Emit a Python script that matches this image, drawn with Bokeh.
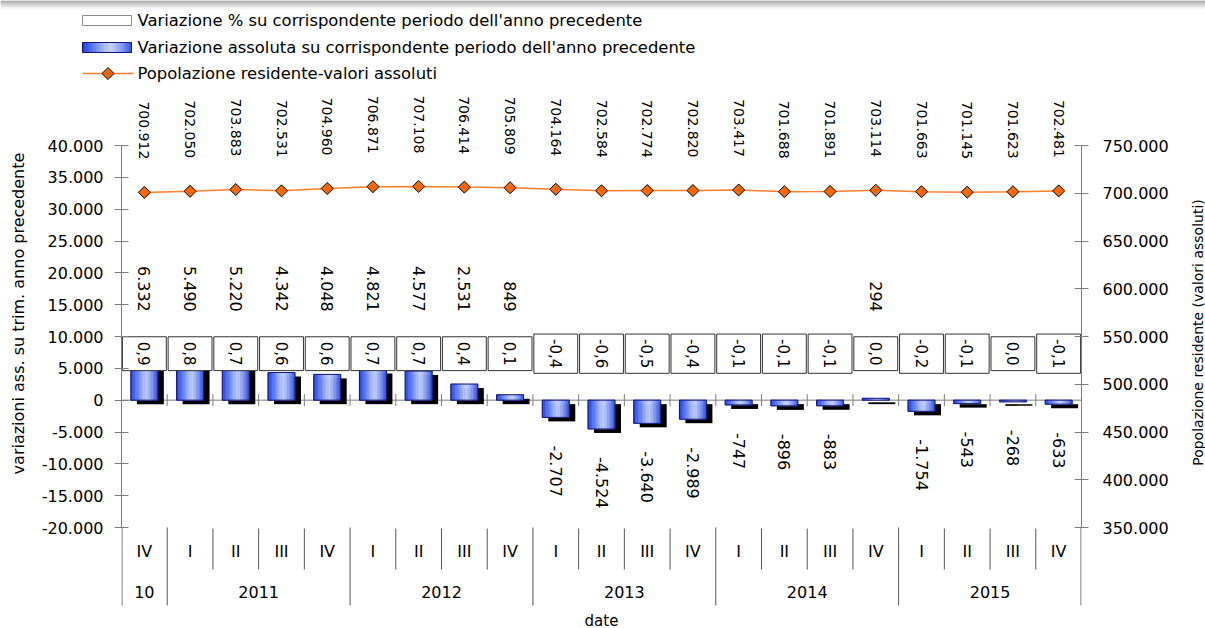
import math
from bokeh.plotting import figure
from bokeh.layouts import column, row
from bokeh.models import Range1d, LinearAxis, FixedTicker, CustomJSTickFormatter
from bokeh.core.properties import value
from bokeh.embed import file_html
from bokeh.resources import INLINE

# ---------------- data ----------------
quarters = ["IV", "I", "II", "III", "IV", "I", "II", "III", "IV", "I", "II", "III",
            "IV", "I", "II", "III", "IV", "I", "II", "III", "IV"]
years = ["10", "2011", "2012", "2013", "2014", "2015"]
year_sizes = [1, 4, 4, 4, 4, 4]
population = [700912, 702050, 703883, 702531, 704960, 706871, 707108, 706414, 705809,
              704164, 702584, 702774, 702820, 703417, 701688, 701891, 703114, 701663,
              701145, 701623, 702481]
abs_change = [6332, 5490, 5220, 4342, 4048, 4821, 4577, 2531, 849, -2707, -4524, -3640,
              -2989, -747, -896, -883, 294, -1754, -543, -268, -633]
pct_change = [0.9, 0.8, 0.7, 0.6, 0.6, 0.7, 0.7, 0.4, 0.1, -0.4, -0.6, -0.5, -0.4,
              -0.1, -0.1, -0.1, 0.0, -0.2, -0.1, 0.0, -0.1]
left_ticks = list(range(-20000, 40001, 5000))
right_ticks = list(range(350000, 750001, 50000))

legend_labels = ["Variazione % su corrispondente periodo dell'anno precedente",
                 "Variazione assoluta su corrispondente periodo dell'anno precedente",
                 "Popolazione residente-valori assoluti"]
left_title = "variazioni ass. su trim. anno precedente"
right_title = "Popolazione residente (valori assoluti)"
x_title = "date"

# ---------------- styles ----------------
FONT = "DejaVu Sans"
GRAD_STOPS = [(0.0, (0x1f, 0x3d, 0xdc)), (0.15, (0x45, 0x65, 0xec)),
              (0.45, (0xa9, 0xbc, 0xfc)), (0.6, (0xc2, 0xd0, 0xff)),
              (0.82, (0x7d, 0x96, 0xf5)), (1.0, (0x33, 0x53, 0xe6))]
BAR_EDGE = "#16167a"
POP_LINE = "#ff7f2a"
POP_FILL = "#ff6600"
AXIS_GRAY = "#7f7f7f"
TOP_BAND = ["#8a8a8a", "#9a9a9a", "#aaaaaa", "#b9b9b9", "#c8c8c8", "#d6d6d6",
            "#e3e3e3", "#eeeeee", "#f7f7f7"]


def grad_color(t):
    for (t0, c0), (t1, c1) in zip(GRAD_STOPS[:-1], GRAD_STOPS[1:]):
        if t <= t1:
            f = (t - t0) / (t1 - t0)
            return "#%02x%02x%02x" % tuple(int(round(a + (b - a) * f)) for a, b in zip(c0, c1))
    return "#%02x%02x%02x" % GRAD_STOPS[-1][1]


NSTRIP = 18
BAR_STRIPS = [grad_color((j + 0.5) / NSTRIP) for j in range(NSTRIP)]

# ---------------- layout helpers ----------------
W_ALL = 1205
HL = 86                 # legend strip height
HM = 542                # main chart height
WLT = 30                # left title strip width
WR = 16                 # right title strip width
WM = W_ALL - WR - WLT
BL = 121 - WLT
BR = WLT + WM - 1081
TOP_PX, BOT_PX = 59, 441   # main-figure y of the top / bottom left-axis ticks
L_MIN, L_MAX = left_ticks[0], left_ticks[-1]
R_MIN, R_MAX = right_ticks[0], right_ticks[-1]
k = (BOT_PX - TOP_PX) / (L_MAX - L_MIN)


def d(px):
    return px / k


y_top = L_MAX + d(TOP_PX)
y_bot = L_MIN - d(HM - BOT_PX)
ratio = (R_MAX - R_MIN) / (L_MAX - L_MIN)


def to_right(v):
    return R_MIN + (v - L_MIN) * ratio


def dp(px):
    return px * ratio / k


n = len(quarters)
xc = [i + 0.5 for i in range(n)]
cat_px = (WM - BL - BR) / n


def dx(px):
    return px / cat_px


def it_int(v):
    return f"{v:,}".replace(",", ".")


def it_dec(v):
    return f"{v:.1f}".replace(".", ",")


CW = {",": 0.318, ".": 0.318, "-": 0.361}


def text_px(s, size):
    return sum(CW.get(ch, 0.636) for ch in s) * size


def bare(fig):
    fig.outline_line_color = None
    fig.grid.visible = False
    fig.frame_align = False
    return fig


def strip_fig(w, h):
    return bare(figure(width=w, height=h, x_range=Range1d(0, w), y_range=Range1d(h, 0),
                       output_backend="svg", toolbar_location=None, x_axis_location=None,
                       y_axis_location=None, min_border=0))


# ---------------- legend strip (figure above) ----------------
lg = strip_fig(W_ALL, HL)
nb = len(TOP_BAND)
lg.quad(left=[0] * nb, right=[W_ALL] * nb, top=list(range(nb)),
        bottom=[i + 1 for i in range(nb)], fill_color=TOP_BAND, line_color=None)
SW_L, SW_R, TXT_X = 82, 131, 137
ROWS = [20, 47, 73]
lg.quad(left=[SW_L], right=[SW_R], top=[ROWS[0] - 5], bottom=[ROWS[0] + 5],
        fill_color="white", line_color="#8c8c8c", line_width=1)
sw_step = (SW_R - SW_L) / NSTRIP
lg.quad(left=[SW_L + j * sw_step for j in range(NSTRIP)],
        right=[SW_L + (j + 1) * sw_step for j in range(NSTRIP)],
        top=[ROWS[1] - 5] * NSTRIP, bottom=[ROWS[1] + 5] * NSTRIP,
        fill_color=BAR_STRIPS, line_color=BAR_STRIPS, line_width=0.6)
lg.quad(left=[SW_L], right=[SW_R], top=[ROWS[1] - 5], bottom=[ROWS[1] + 5],
        fill_color=None, line_color=BAR_EDGE, line_width=1)
lg.line(x=[SW_L, SW_R + 2], y=[ROWS[2], ROWS[2]], line_color=POP_LINE, line_width=1.5)
lg.scatter(x=[(SW_L + SW_R + 2) / 2], y=[ROWS[2]], marker="square", angle=math.pi / 4,
           size=8.5, fill_color=POP_FILL, line_color="black", line_width=1)
lg.text(x=[TXT_X] * 3, y=ROWS, text=legend_labels, text_align="left",
        text_baseline="middle", text_font=value(FONT), text_font_size="16.4px",
        text_color="black")

# ---------------- axis title strips ----------------
lt = strip_fig(WLT, HM)
lt.text(x=[18], y=[313 - HL], text=[left_title], angle=math.pi / 2,
        text_align="center", text_baseline="middle", text_font=value(FONT),
        text_font_size="16px", text_color="black")
rt = strip_fig(WR, HM)
rt.text(x=[WR / 2], y=[332 - HL], text=[right_title], angle=math.pi / 2,
        text_align="center", text_baseline="middle", text_font=value(FONT),
        text_font_size="14px", text_color="black")

# ---------------- main figure ----------------
p = bare(figure(width=WM, height=HM, x_range=Range1d(0, n), y_range=Range1d(y_bot, y_top),
                output_backend="svg", toolbar_location=None, x_axis_location=None,
                min_border_left=BL, min_border_right=BR, min_border_top=0,
                min_border_bottom=0))
p.background_fill_color = "white"
p.border_fill_color = "white"
p.extra_y_ranges = {"pop": Range1d(to_right(y_bot), to_right(y_top))}

fmt_code = 'return tick.toFixed(0).replace(/\\B(?=(\\d{3})+(?!\\d))/g, ".");'

axl = p.yaxis[0]
axl.ticker = FixedTicker(ticks=left_ticks)
axl.bounds = (L_MIN, L_MAX)
axl.major_label_standoff = 11

axr = LinearAxis(y_range_name="pop", ticker=FixedTicker(ticks=right_ticks),
                 bounds=(R_MIN, R_MAX))
axr.major_label_standoff = 14
p.add_layout(axr, "right")

for ax in (axl, axr):
    ax.formatter = CustomJSTickFormatter(code=fmt_code)
    ax.axis_line_color = AXIS_GRAY
    ax.major_tick_line_color = AXIS_GRAY
    ax.minor_tick_line_color = None
    ax.major_tick_in = 7
    ax.major_tick_out = 7
    ax.major_label_text_font = FONT
    ax.major_label_text_font_size = "16px"
    ax.major_label_text_color = "black"

# zero line + category ticks
bounds_all = list(range(0, n + 1))
p.segment(x0=[0], y0=[0], x1=[n], y1=[0], line_color=AXIS_GRAY, line_width=1)
inner = bounds_all[1:-1]
p.segment(x0=inner, y0=[-d(6)] * len(inner), x1=inner, y1=[d(6)] * len(inner),
          line_color=AXIS_GRAY, line_width=1)

# bars: shadow, gradient strips, outline
BAR_W = 0.59
p.vbar(x=[c + dx(6) for c in xc], top=[v - d(4) for v in abs_change], bottom=-d(4),
       width=BAR_W, fill_color="black", line_color=None)
for j, col in enumerate(BAR_STRIPS):
    off = -BAR_W / 2 + (j + 0.5) * BAR_W / NSTRIP
    p.vbar(x=[c + off for c in xc], top=abs_change, bottom=0,
           width=BAR_W / NSTRIP, fill_color=col, line_color=col, line_width=0.6)
p.vbar(x=xc, top=abs_change, bottom=0, width=BAR_W, fill_color=None,
       line_color=BAR_EDGE, line_width=1)

# percentage boxes
BOX_LEVEL = 7300
pct_labels = [it_dec(v) for v in pct_change]
box_h = [text_px(s, 15) + 10 for s in pct_labels]
p.rect(x=xc, y=[BOX_LEVEL] * n, width=0.96, height=box_h, height_units="screen",
       fill_color="white", line_color="#333333", line_width=1)
p.text(x=xc, y=[BOX_LEVEL] * n, text=pct_labels, angle=-math.pi / 2,
       text_align="center", text_baseline="middle", text_font=value(FONT),
       text_font_size="15px", text_color="black")

# absolute value labels
pos_x, pos_y, pos_t, neg_x, neg_y, neg_t = [], [], [], [], [], []
for c, v, h in zip(xc, abs_change, box_h):
    if v >= 0:
        pos_x.append(c)
        pos_y.append(max(BOX_LEVEL + d(h / 2), v) + d(25))
        pos_t.append(it_int(v))
    else:
        neg_x.append(c)
        neg_y.append(v - d(28))
        neg_t.append(it_int(v))
p.text(x=pos_x, y=pos_y, text=pos_t, angle=-math.pi / 2, text_align="right",
       text_baseline="middle", text_font=value(FONT), text_font_size="16px",
       text_color="black")
p.text(x=neg_x, y=neg_y, text=neg_t, angle=-math.pi / 2, text_align="left",
       text_baseline="middle", text_font=value(FONT), text_font_size="16px",
       text_color="black")

# population line
p.line(x=xc, y=population, y_range_name="pop", line_color=POP_LINE, line_width=1.5)
p.scatter(x=xc, y=population, y_range_name="pop", marker="square",
          angle=math.pi / 4, size=8.5, fill_color=POP_FILL, line_color="black",
          line_width=1)
p.text(x=xc, y=[v + dp(62) for v in population], y_range_name="pop",
       text=[it_int(v) for v in population], angle=-math.pi / 2, text_align="center",
       text_baseline="middle", text_font=value(FONT), text_font_size="14px",
       text_color="black")

# category table below the plot
year_edges = [0]
for s in year_sizes:
    year_edges.append(year_edges[-1] + s)
short_edges = [b for b in bounds_all if b not in year_edges]
p.segment(x0=short_edges, y0=[L_MIN - d(1)] * len(short_edges), x1=short_edges,
          y1=[L_MIN - d(42)] * len(short_edges), line_color="#555555", line_width=1)
long_edges = [b + (0.01 if b == 0 else (-0.01 if b == n else 0)) for b in year_edges]
p.segment(x0=long_edges, y0=[L_MIN] * len(long_edges), x1=long_edges,
          y1=[L_MIN - d(78)] * len(long_edges), line_color="#555555", line_width=1)
p.text(x=xc, y=[L_MIN - d(24)] * n, text=quarters, text_align="center",
       text_baseline="middle", text_font=value(FONT), text_font_size="16px",
       text_color="black")
year_centers = [(a + b) / 2 for a, b in zip(year_edges[:-1], year_edges[1:])]
p.text(x=year_centers, y=[L_MIN - d(64)] * len(years), text=years, text_align="center",
       text_baseline="middle", text_font=value(FONT), text_font_size="16px",
       text_color="black")
p.text(x=[n / 2], y=[L_MIN - d(93)], text=[x_title], text_align="center",
       text_baseline="middle", text_font=value(FONT), text_font_size="15px",
       text_color="black")

layout = column(lg, row(lt, p, rt, spacing=0), spacing=0)
open("out.html", "w").write(file_html(layout, INLINE))
